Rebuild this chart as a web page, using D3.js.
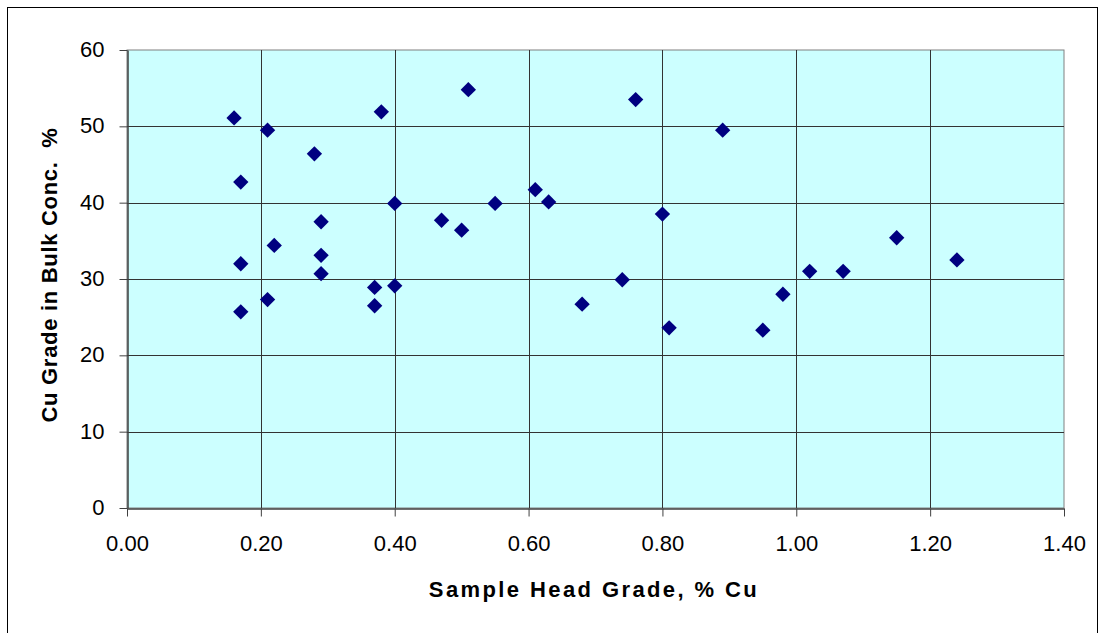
<!DOCTYPE html>
<html>
<head>
<meta charset="utf-8">
<script src="https://cdn.jsdelivr.net/npm/d3@7"></script>
<style>
  body { margin: 0; background: #fff; }
  svg { display: block; font-family: "Liberation Sans", Arial, sans-serif; }
</style>
</head>
<body>
<div id="chart"></div>
<script>
// head grade (% Cu) vs Cu grade in bulk concentrate (%)
const headGrade = [0.16, 0.21, 0.17, 0.28, 0.38, 0.51, 0.40, 0.29, 0.22, 0.17,
  0.29, 0.29, 0.37, 0.40, 0.21, 0.37, 0.17, 0.47, 0.50, 0.55,
  0.61, 0.63, 0.76, 0.80, 0.89, 0.68, 0.74, 0.81, 0.95, 0.98,
  1.02, 1.07, 1.15, 1.24];
const concGrade = [51.1, 49.5, 42.7, 46.4, 51.9, 54.8, 39.9, 37.5, 34.4, 32.0,
  33.1, 30.7, 28.9, 29.1, 27.3, 26.5, 25.7, 37.7, 36.4, 39.9,
  41.7, 40.1, 53.5, 38.5, 49.5, 26.7, 29.9, 23.6, 23.3, 28.0,
  31.0, 31.0, 35.4, 32.5];
const xTicks = [0, 0.2, 0.4, 0.6, 0.8, 1.0, 1.2, 1.4];
const yTicks = [0, 10, 20, 30, 40, 50, 60];

const width = 1105, height = 633;
const margin = { left: 127, right: 1105 - 1064, top: 50, bottom: 633 - 508 };

const svg = d3.select('#chart').append('svg')
    .attr('width', width)
    .attr('height', height);

// outer chart frame
svg.append('rect')
    .attr('x', 7.5).attr('y', 7.5)
    .attr('width', 1090).attr('height', 640)
    .attr('fill', '#fff')
    .attr('stroke', '#000')
    .attr('stroke-width', 1);

const x = d3.scaleLinear().domain([0, 1.4]).range([margin.left, width - margin.right]);
const y = d3.scaleLinear().domain([0, 60]).range([height - margin.bottom, margin.top]);

// plot background
svg.append('rect')
    .attr('x', x(0)).attr('y', y(60))
    .attr('width', x(1.4) - x(0)).attr('height', y(0) - y(60))
    .attr('fill', '#ccffff')
    .attr('stroke', '#808080')
    .attr('stroke-width', 1);

// gridlines
const grid = svg.append('g').attr('stroke', '#333').attr('stroke-width', 1);
grid.selectAll('.hg').data(yTicks.filter(d => d > 0 && d < 60)).enter().append('line')
    .attr('x1', x(0)).attr('x2', x(1.4))
    .attr('y1', d => Math.round(y(d)) + 0.5).attr('y2', d => Math.round(y(d)) + 0.5);
grid.selectAll('.vg').data(xTicks.filter(d => d > 0 && d < 1.4)).enter().append('line')
    .attr('y1', y(60)).attr('y2', y(0))
    .attr('x1', d => Math.round(x(d)) + 0.5).attr('x2', d => Math.round(x(d)) + 0.5);

// axes
const xAxis = svg.append('g')
    .attr('transform', `translate(0,${Math.round(y(0)) + 0.5})`)
    .call(d3.axisBottom(x).tickValues(xTicks).tickFormat(d3.format('.2f')).tickSizeOuter(0).tickSizeInner(8).tickPadding(19));
const yAxis = svg.append('g')
    .attr('transform', `translate(${Math.round(x(0)) + 0.5},0)`)
    .call(d3.axisLeft(y).tickValues(yTicks).tickSizeOuter(0).tickSizeInner(8).tickPadding(15));

[xAxis, yAxis].forEach(a => {
    a.select('.domain').attr('stroke', '#404040').attr('stroke-width', 1.5);
    a.selectAll('.tick line').attr('stroke', '#404040');
    a.selectAll('.tick text')
        .attr('fill', '#000')
        .style('font-size', '22px')
        .style('font-family', '"Liberation Sans", Arial, sans-serif');
});
yAxis.selectAll('.tick text').attr('dy', '0.3em');

// points
const diamond = d3.symbol().type(d3.symbolDiamond2).size(150);
svg.append('g').selectAll('path')
    .data(headGrade.map((h, i) => [h, concGrade[i]]))
    .enter().append('path')
    .attr('d', diamond)
    .attr('transform', d => `translate(${x(d[0])},${y(d[1])})`)
    .attr('fill', '#000080');

// axis titles
svg.append('text')
    .attr('x', 594)
    .attr('y', 597)
    .attr('text-anchor', 'middle')
    .style('font-size', '22px')
    .style('font-weight', 'bold')
    .style('letter-spacing', '2.4px')
    .text('Sample Head Grade, % Cu');

svg.append('text')
    .attr('transform', `translate(57,275) rotate(-90)`)
    .attr('text-anchor', 'middle')
    .style('font-size', '22px')
    .style('font-weight', 'bold')
    .style('letter-spacing', '0.7px')
    .style('white-space', 'pre')
    .text('Cu Grade in Bulk Conc.  %');
</script>
</body>
</html>
